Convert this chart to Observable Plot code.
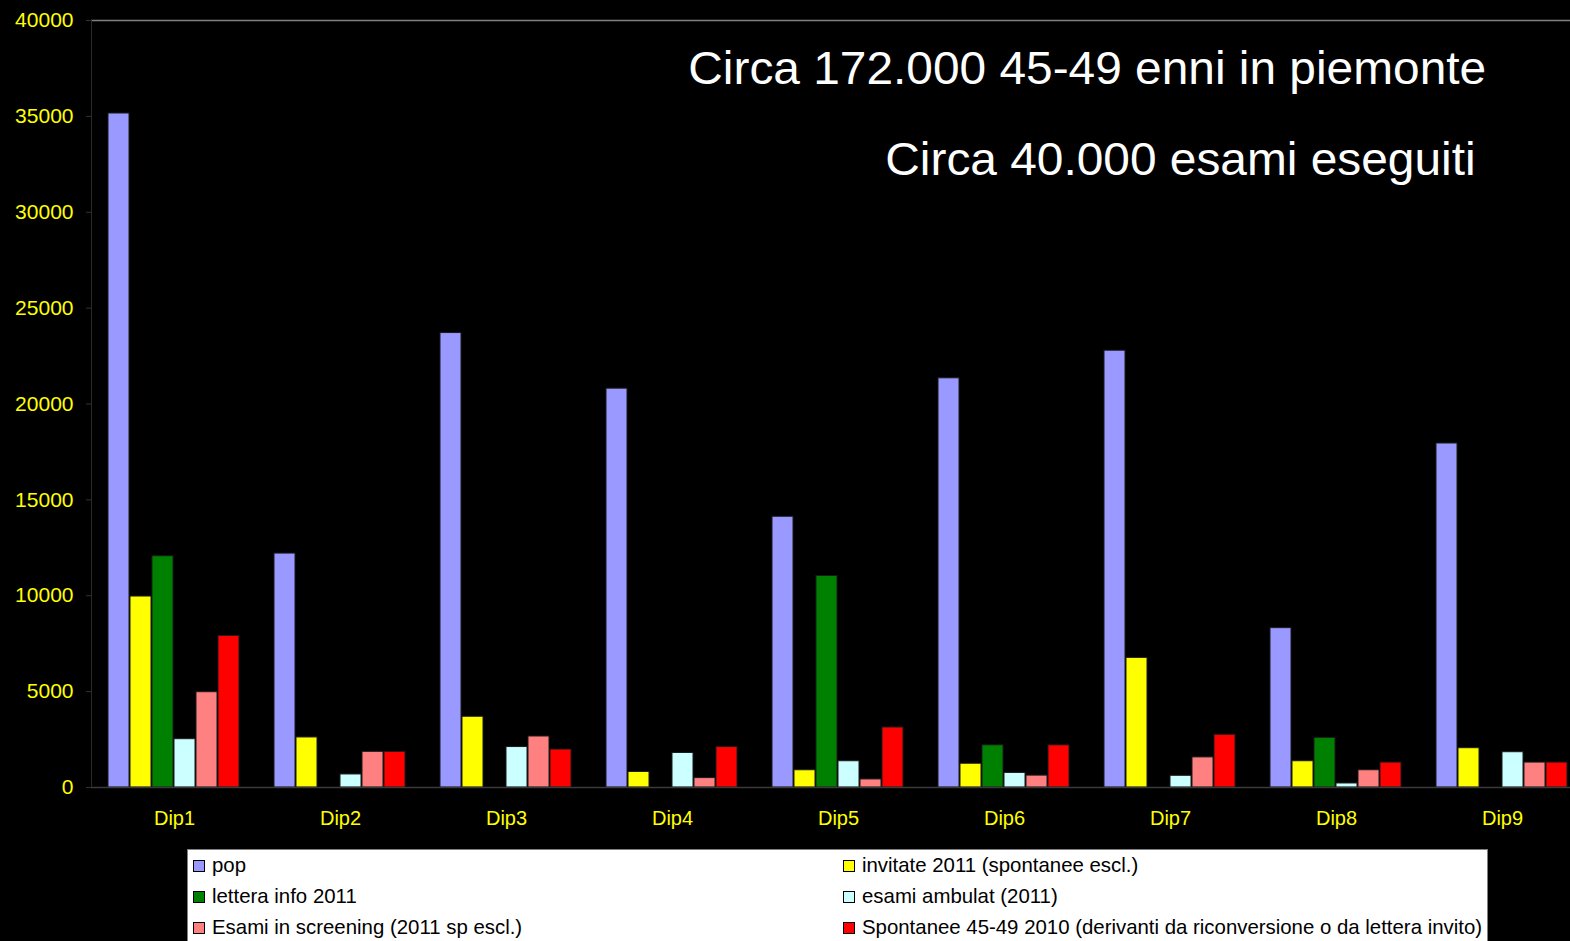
<!DOCTYPE html>
<html>
<head>
<meta charset="utf-8">
<script src="https://cdn.jsdelivr.net/npm/d3@7"></script>
<script src="https://cdn.jsdelivr.net/npm/@observablehq/plot@0.6"></script>
<style>
  html, body { margin: 0; padding: 0; background: #000; overflow: hidden; }
  #wrap { position: relative; width: 1570px; height: 941px; overflow: hidden; font-family: "Liberation Sans", Arial, sans-serif; }
  #chart { position: absolute; left: 0; top: 0; width: 1587px; }
  #chart svg { max-width: none !important; }
  .title { position: absolute; color: #fff; font-size: 46px; line-height: 46px; white-space: nowrap; transform-origin: right center; transform: scaleX(1.04); }
  #leftline { position: absolute; left: 91px; top: 20px; width: 1px; height: 767px; background: #2a2a2a; }
  #legend { position: absolute; left: 187px; top: 849px; width: 1299px; height: 120px; background: #fff; border: 1px solid #808080; }
  .item { position: absolute; height: 31px; line-height: 31px; font-size: 20.4px; color: #000; white-space: nowrap; display: flex; align-items: center; }
  .sw { width: 10px; height: 10px; border: 1px solid #000; margin-right: 7px; }
</style>
</head>
<body>
<div id="wrap">
  <div id="chart"></div>
  <div id="leftline"></div>
  <div class="title" id="t1" style="right:84px; top:45px;">Circa 172.000 45-49 enni in piemonte</div>
  <div class="title" id="t2" style="right:94px; top:136px;">Circa 40.000 esami eseguiti</div>
  <div id="legend"></div>
</div>
<script>
// ---- data ----
const dips = ["Dip1", "Dip2", "Dip3", "Dip4", "Dip5", "Dip6", "Dip7", "Dip8", "Dip9"];
const seriesNames = [
  "pop",
  "invitate 2011 (spontanee escl.)",
  "lettera info 2011",
  "esami ambulat (2011)",
  "Esami in screening (2011 sp escl.)",
  "Spontanee 45-49 2010 (derivanti da riconversione o da lettera invito)"
];
const seriesColors = ["#9999FF", "#FFFF00", "#008000", "#CCFFFF", "#FF8080", "#FF0000"];
const pop       = [35150, 12200, 23700, 20800, 14120, 21340, 22780, 8310, 17940];
const invitate  = [9960, 2610, 3690, 810, 900, 1240, 6760, 1370, 2050];
const lettera   = [12060, 0, 0, 0, 11030, 2200, 0, 2590, 0];
const ambulat   = [2520, 680, 2110, 1800, 1370, 760, 610, 210, 1840];
const screening = [4970, 1860, 2660, 490, 420, 620, 1570, 900, 1300];
const spontanee = [7910, 1860, 1980, 2110, 3130, 2200, 2750, 1300, 1300];
const yTicks = [0, 5000, 10000, 15000, 20000, 25000, 30000, 35000, 40000];

const seriesValues = [pop, invitate, lettera, ambulat, screening, spontanee];
const rows = [];
dips.forEach((d, i) => {
  seriesNames.forEach((s, j) => {
    rows.push({dip: d, series: s, value: seriesValues[j][i]});
  });
});
const bars = rows.filter(r => r.value > 0);

const chart = Plot.plot({
  width: 1587,
  height: 845,
  marginLeft: 91,
  marginRight: 2,
  marginTop: 20,
  marginBottom: 58,
  style: {background: "transparent", fontFamily: "Liberation Sans, Arial, sans-serif", fontSize: "20px", maxWidth: "none"},
  fx: {domain: dips, padding: 0},
  x: {domain: seriesNames, axis: null, paddingInner: 0.045, paddingOuter: 0.795},
  y: {domain: [0, 40000]},
  color: {domain: seriesNames, range: seriesColors},
  marks: [
    Plot.ruleY([40000], {stroke: "#808080", strokeWidth: 1.5}),
    Plot.barY(bars, {fx: "dip", x: "series", y: "value", fill: "series", stroke: "#1a1a1a", strokeWidth: 1}),
    Plot.ruleY([0], {stroke: "#3a3a3a", strokeWidth: 1.5}),
    Plot.axisY({ticks: yTicks, tickSize: 5, tickPadding: 13, stroke: "#333", fill: "#FFFF00", fontSize: 21, tickFormat: d => String(d), label: null}),
    Plot.axisFx({anchor: "bottom", tickSize: 0, tickPadding: 23, fill: "#FFFF00", fontSize: 20, label: null})
  ]
});
chart.style.maxWidth = "none";
document.getElementById("chart").appendChild(chart);

// ---- legend ----
const legend = document.getElementById("legend");
seriesNames.forEach((s, i) => {
  const col = i % 2, row = Math.floor(i / 2);
  const it = document.createElement("div");
  it.className = "item";
  it.style.left = (col === 0 ? 5 : 655) + "px";
  it.style.top = (row * 31 + 0) + "px";
  const sw = document.createElement("span");
  sw.className = "sw";
  sw.style.background = seriesColors[i];
  const tx = document.createElement("span");
  tx.textContent = s;
  it.appendChild(sw);
  it.appendChild(tx);
  legend.appendChild(it);
});
</script>
</body>
</html>
